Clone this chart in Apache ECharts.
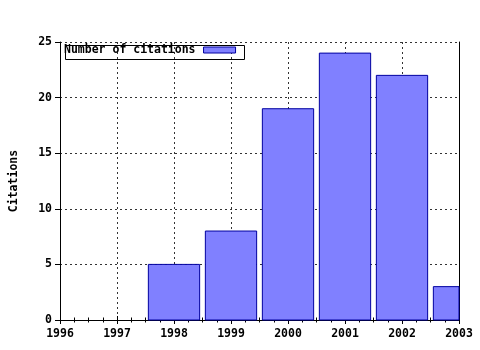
<!DOCTYPE html>
<html><head><meta charset="utf-8">
<script src="https://cdn.jsdelivr.net/npm/echarts@6/dist/echarts.min.js"></script>
<style>html,body{margin:0;padding:0;background:#fff}#c{width:480px;height:350px}</style>
</head><body><div id="c"></div>
<script>
const years = [1998, 1999, 2000, 2001, 2002, 2003];
const citations = [5, 8, 19, 24, 22, 3];
const seriesName = 'Number of citations';
const yAxisTitle = 'Citations';

const FONT = '"DejaVu Sans Mono", "Liberation Mono", monospace';
const tf = {fontFamily: FONT, fontWeight: 'bold', fontSize: 11.5, color: '#000'};
const gridLine = {show: true, lineStyle: {color: '#333', type: [2, 3], width: 1}};
const barStyle = {color: '#8080ff', borderColor: '#0000a0', borderWidth: 1};
const chart = echarts.init(document.getElementById('c'), null, {renderer: 'canvas'});
const xBase = {type: 'value', min: 1996, max: 2003, interval: 1,
  axisLine: {show: true, lineStyle: {color: '#000', width: 1}},
  axisTick: {show: true, length: 4, lineStyle: {color: '#000'}},
  minorTick: {show: true, splitNumber: 4, length: 2.5, lineStyle: {color: '#000'}}};
chart.setOption({
  animation: false,
  grid: {left: 56, right: 21, top: 42, bottom: 30},
  legend: {show: true, left: 64, top: 44, align: 'right', itemWidth: 32, itemHeight: 6,
    padding: 0, itemGap: 0, textStyle: Object.assign({}, tf, {padding: [0, 3, 0, 0]}),
    data: [{name: seriesName, icon: 'rect', itemStyle: barStyle}]},
  graphic: [{type: 'rect', left: 63, top: 43, shape: {width: 179, height: 14},
    style: {fill: 'none', stroke: '#000', lineWidth: 1}, z: 5}],
  xAxis: [
    Object.assign({}, xBase, {position: 'bottom',
      axisLabel: Object.assign({}, tf, {margin: 8, formatter: v => String(v)}),
      splitLine: gridLine}),
    Object.assign({}, xBase, {position: 'top', axisLabel: {show: false}, splitLine: {show: false}})
  ],
  yAxis: [
    {type: 'value', min: 0, max: 25, interval: 5, position: 'left',
      name: yAxisTitle, nameLocation: 'middle', nameGap: 40, nameRotate: 90,
      nameTextStyle: tf,
      axisLine: {show: true, lineStyle: {color: '#000'}},
      axisTick: {show: true, length: 5, lineStyle: {color: '#000'}},
      axisLabel: Object.assign({}, tf, {margin: 8}),
      splitLine: gridLine},
    {type: 'value', min: 0, max: 25, interval: 5, position: 'right',
      axisLine: {show: true, lineStyle: {color: '#000'}},
      axisTick: {show: false}, axisLabel: {show: false}, splitLine: {show: false}}
  ],
  series: [{
    name: seriesName, type: 'custom', xAxisIndex: 0, yAxisIndex: 0,
    itemStyle: barStyle,
    renderItem: function (params, api) {
      const x = api.value(0), y = api.value(1);
      const p0 = api.coord([x, 0]);
      const p1 = api.coord([x, y]);
      const halfW = api.size([0.9, 0])[0] / 2;
      const rect = {x: p0[0] - halfW, y: p1[1], width: halfW * 2, height: p0[1] - p1[1]};
      const cs = params.coordSys;
      const shape = echarts.graphic.clipRectByRect(rect, {x: cs.x, y: cs.y, width: cs.width, height: cs.height});
      if (!shape) return null;
      return {type: 'rect', shape: shape, style: api.style()};
    },
    encode: {x: 0, y: 1},
    data: years.map((y, i) => [y, citations[i]])
  }]
});
</script></body></html>
